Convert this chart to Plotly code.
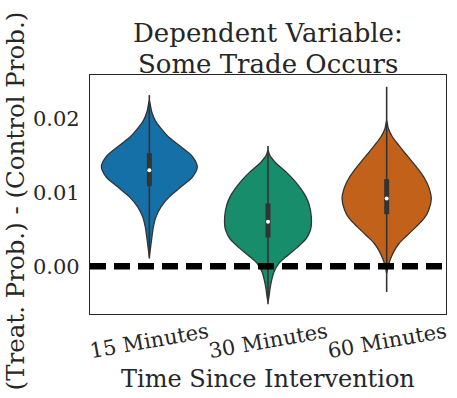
import plotly.graph_objects as go

categories = ["15 Minutes", "30 Minutes", "60 Minutes"]
colors = ["#1670A8", "#178D6B", "#C2621A"]
edge_color = "#333333"

# violin profiles: value levels and half-widths (fraction of category slot)
y_15 = [0.02250, 0.02213, 0.02100, 0.01986, 0.01873, 0.01760, 0.01624, 0.01488, 0.01351,
        0.01215, 0.01079, 0.00943, 0.00807, 0.00671, 0.00535, 0.00399, 0.00263, 0.00127]
w_15 = [0.0, 0.006, 0.020, 0.048, 0.098, 0.160, 0.267, 0.365, 0.404,
        0.365, 0.267, 0.168, 0.098, 0.056, 0.034, 0.022, 0.011, 0.0]
y_30 = [0.01578, 0.01510, 0.01397, 0.01283, 0.01170, 0.01057, 0.00943, 0.00830, 0.00671, 0.00558,
        0.00490, 0.00377, 0.00263, 0.00150, 0.00036, -0.00077, -0.00190, -0.00304, -0.00417, -0.00480]
w_30 = [0.0, 0.014, 0.070, 0.152, 0.219, 0.275, 0.320, 0.348, 0.365, 0.365,
        0.357, 0.323, 0.253, 0.168, 0.090, 0.051, 0.031, 0.017, 0.008, 0.0]
y_60 = [0.01980, 0.01873, 0.01760, 0.01646, 0.01533, 0.01419, 0.01306, 0.01193, 0.01079, 0.00921,
        0.00762, 0.00649, 0.00535, 0.00422, 0.00309, 0.00195, 0.00082, -0.00009, -0.00099]
w_60 = [0.0, 0.014, 0.048, 0.101, 0.157, 0.216, 0.272, 0.320, 0.354, 0.376,
        0.354, 0.315, 0.247, 0.174, 0.104, 0.059, 0.028, 0.011, 0.0]

# box stats
q1 = [0.01088, 0.00390, 0.00707]
median = [0.01306, 0.00603, 0.00921]
q3 = [0.01537, 0.00853, 0.01184]
whisker_low = [0.00104, -0.00517, -0.00350]
whisker_high = [0.02327, 0.01633, 0.02440]

ZERO_LINE = 0.0
y_ticks = [0.00, 0.01, 0.02]
y_range = [-0.0065, 0.026]

title_lines = ["Dependent Variable:", "Some Trade Occurs"]
x_title = "Time Since Intervention"
y_title = "(Treat. Prob.) - (Control Prob.)"

FONT = "DejaVu Serif"
TXT = "#262626"

profiles = [(y_15, w_15), (y_30, w_30), (y_60, w_60)]

fig = go.Figure()
for i, (ys, ws) in enumerate(profiles):
    xs = [i + w for w in ws] + [i - w for w in reversed(ws)]
    yy = list(ys) + list(reversed(ys))
    fig.add_trace(go.Scatter(x=xs, y=yy, mode="lines", fill="toself",
                             fillcolor=colors[i], line=dict(color=edge_color, width=1.3, shape="spline", smoothing=0.8),
                             hoverinfo="skip", showlegend=False))
    fig.add_trace(go.Scatter(x=[i, i], y=[whisker_low[i], whisker_high[i]], mode="lines",
                             line=dict(color=edge_color, width=1.6), showlegend=False, hoverinfo="skip"))
    fig.add_trace(go.Scatter(x=[i, i], y=[q1[i], q3[i]], mode="lines",
                             line=dict(color=edge_color, width=5), showlegend=False, hoverinfo="skip"))
    fig.add_trace(go.Scatter(x=[i], y=[median[i]], mode="markers",
                             marker=dict(color="white", size=4, line=dict(width=0)), showlegend=False, hoverinfo="skip"))

fig.add_shape(type="line", xref="x", yref="y", x0=-0.5, x1=2.5, y0=ZERO_LINE, y1=ZERO_LINE,
              line=dict(color="black", width=6.5, dash="16px,8px"), layer="above")

annotations = []
for i, c in enumerate(categories):
    annotations.append(dict(x=i, y=-0.112, xref="x", yref="paper", text=c, showarrow=False,
                            textangle=-10, xanchor="center", yanchor="middle",
                            font=dict(family=FONT, size=21, color=TXT)))
annotations.append(dict(x=0.5, y=-0.272, xref="paper", yref="paper", text=x_title, showarrow=False,
                        xanchor="center", yanchor="middle", font=dict(family=FONT, size=24, color=TXT)))
annotations.append(dict(x=-0.208, y=0.475, xref="paper", yref="paper", text=y_title, showarrow=False,
                        textangle=-90, xanchor="center", yanchor="middle", font=dict(family=FONT, size=24.5, color=TXT)))
for ty, line in zip([1.175, 1.046], title_lines):
    annotations.append(dict(x=0.5, y=ty, xref="paper", yref="paper", text=line, showarrow=False,
                            xanchor="center", yanchor="middle", font=dict(family=FONT, size=26, color=TXT)))

fig.update_layout(
    width=457, height=398,
    margin=dict(l=90, r=11, t=75, b=84),
    paper_bgcolor="white", plot_bgcolor="white",
    showlegend=False,
    annotations=annotations,
    xaxis=dict(range=[-0.5, 2.5], showticklabels=False, showgrid=False, zeroline=False,
               showline=True, mirror=True, linecolor=TXT, linewidth=1.3, ticks=""),
    yaxis=dict(range=y_range, tickvals=y_ticks, tickformat=".2f", showgrid=False, zeroline=False,
               showline=True, mirror=True, linecolor=TXT, linewidth=1.3, ticks="",
               ticklabelstandoff=5, tickfont=dict(family=FONT, size=21, color=TXT)),
)

fig.write_html("out.html", config={"displayModeBar": False},
               post_script="document.body.style.margin='0';document.body.style.padding='0';")
